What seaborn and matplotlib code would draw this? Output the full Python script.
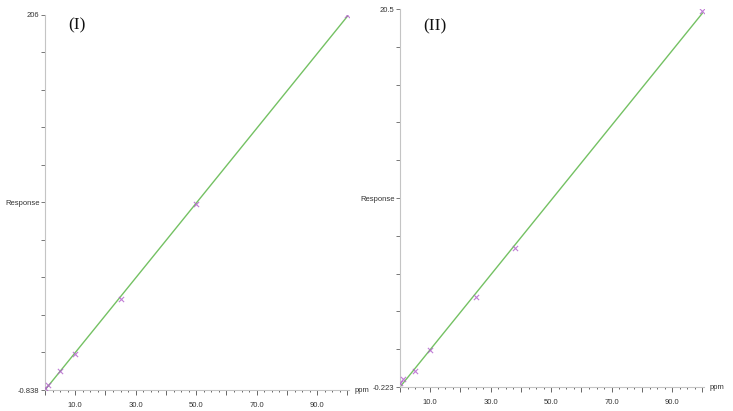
import matplotlib
matplotlib.use("Agg")
import matplotlib.pyplot as plt
import seaborn as sns
import numpy as np
import pandas as pd
from matplotlib.ticker import MultipleLocator, FixedLocator, FuncFormatter

# ---- data ----
ppm_I = [0, 1, 5, 10, 25, 50, 100]
resp_I = [0.2, 2.0, 9.6, 19.2, 49.2, 101.8, 206.0]
ylim_I = (-0.838, 206)
ylabels_I = ["-0.838", "206"]

ppm_II = [0, 1, 5, 10, 25, 38, 100]
resp_II = [0.0, 0.2, 0.64, 1.8, 4.70, 7.40, 20.4]
ylim_II = (-0.223, 20.5)
ylabels_II = ["-0.223", "20.5"]

xtick_labels = [10, 30, 50, 70, 90]
panel_names = ["(I)", "(II)"]

sns.set_theme(style="white")
plt.rcParams["font.family"] = ["Liberation Sans", "DejaVu Sans"]

W, H = 733, 411
fig = plt.figure(figsize=(W / 100, H / 100), dpi=100)


def add_axes(x0, x1, ytop, ybot):
    return fig.add_axes([x0 / W, (H - ybot) / H, (x1 - x0) / W, (ybot - ytop) / H])


GREEN = "#74c163"
PURPLE = "#b15ccc"
AXC = "#c4c4c4"
TXT = "#333333"


def panel(ax, ppm, resp, ylim, ylabels, name, namepos):
    df = pd.DataFrame({"ppm": ppm, "resp": resp})
    sns.regplot(data=df, x="ppm", y="resp", ax=ax, ci=None, marker="x",
                scatter_kws=dict(color=PURPLE, s=14, linewidths=0.8, zorder=3),
                line_kws=dict(color=GREEN, lw=1.0, zorder=2))
    ax.set_xlim(0, 100.5)
    ax.set_ylim(*ylim)
    ax.set_xlabel("")
    ax.set_ylabel("")
    for s in ["top", "right"]:
        ax.spines[s].set_visible(False)
    for s in ["left", "bottom"]:
        ax.spines[s].set_color(AXC)
        ax.spines[s].set_linewidth(0.8)
    # y ticks: 10 intervals, labels at ends and "Response" in the middle
    yt = np.linspace(ylim[0], ylim[1], 11)
    ax.yaxis.set_major_locator(FixedLocator(yt))
    labs = [""] * 11
    labs[0] = ylabels[0]
    labs[-1] = ylabels[1]
    labs[5] = "Response"
    ax.set_yticklabels(labs)
    ax.tick_params(axis="y", which="major", length=3, width=0.7, color="#777777",
                   labelsize=5.5, labelcolor=TXT, pad=1, left=True)
    # x ticks
    ax.xaxis.set_major_locator(MultipleLocator(10))
    ax.xaxis.set_minor_locator(MultipleLocator(2.5))
    ax.xaxis.set_major_formatter(FuncFormatter(
        lambda v, p: f"{v:.1f}" if int(round(v)) in xtick_labels else ""))
    ax.tick_params(axis="x", which="major", length=3.5, width=0.7, color="#666666",
                   labelsize=5.5, labelcolor=TXT, pad=5, bottom=True)
    ax.tick_params(axis="x", which="minor", length=1.5, width=0.7, color="#666666",
                   bottom=True)
    ax.annotate("ppm", xy=(1, 0), xycoords="axes fraction", xytext=(4, 0),
                textcoords="offset points", ha="left", va="center",
                fontsize=5.5, color=TXT)
    ax.set_facecolor("white")
    fig.text(namepos[0] / W, 1 - namepos[1] / H, name, family="Liberation Serif",
             fontsize=12.5, ha="center", va="center", color="#111111")


ax1 = add_axes(45, 349, 15, 390)
ax2 = add_axes(400, 704, 9, 387)
panel(ax1, ppm_I, resp_I, ylim_I, ylabels_I, panel_names[0], (77, 25))
panel(ax2, ppm_II, resp_II, ylim_II, ylabels_II, panel_names[1], (435, 26))

fig.savefig("out.png", dpi=100, facecolor="white")
